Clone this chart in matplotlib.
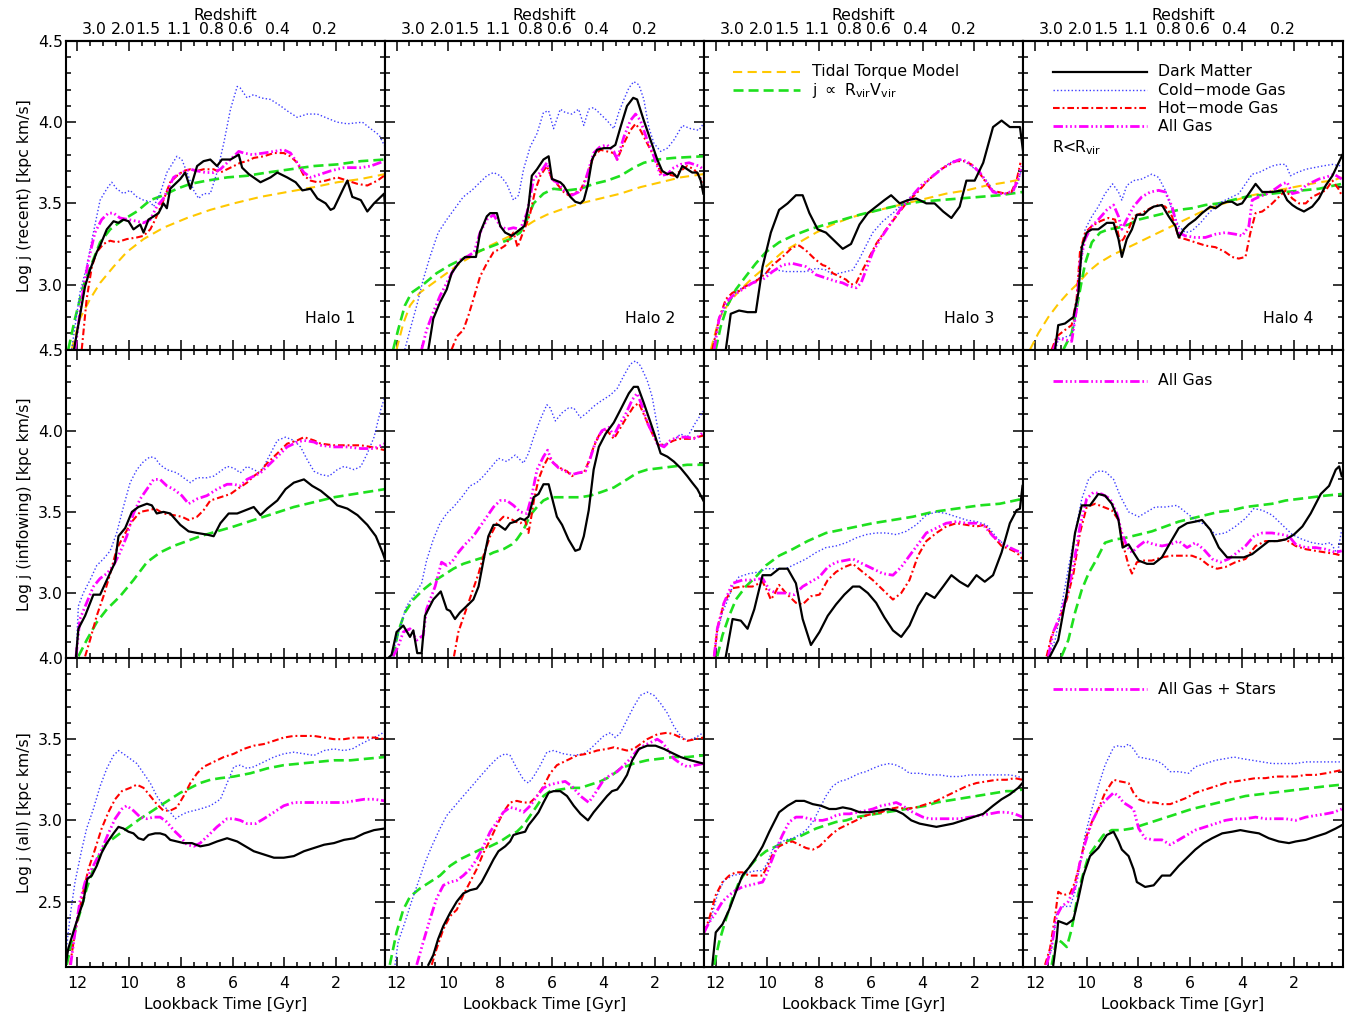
import numpy as np
import matplotlib
matplotlib.use('Agg')
import matplotlib.pyplot as plt
from matplotlib.ticker import MultipleLocator, FormatStrFormatter
from matplotlib.lines import Line2D

# ---------------- data: (lookback time [Gyr], log j) ----------------
# Row 1: recent
R1H1_DM = [(12.13,2.60),(11.70,2.99),(11.51,3.09),(11.25,3.20),(11.12,3.24),(10.86,3.34),(10.60,3.39),(10.41,3.38),(10.22,3.40),(10.02,3.39),(9.83,3.34),(9.57,3.37),(9.44,3.32),(9.25,3.40),(9.05,3.42),(8.86,3.44),(8.67,3.50),(8.54,3.47),(8.41,3.59),(8.02,3.65),(7.83,3.69),(7.63,3.59),(7.37,3.73),(7.12,3.76),(6.86,3.77),(6.60,3.73),(6.41,3.77),(6.08,3.77),(5.76,3.80),(5.63,3.72),(5.37,3.68),(4.92,3.63),(4.53,3.66),(4.27,3.69),(3.89,3.66),(3.56,3.63),(3.30,3.58),(2.98,3.59),(2.72,3.53),(2.40,3.50),(2.21,3.46),(2.08,3.47),(1.69,3.60),(1.56,3.64),(1.37,3.54),(1.04,3.52),(0.79,3.45),(0.53,3.50),(0.14,3.56),(0.08,3.44)]
R1H1_COLD = [(12.22,2.60),(11.90,2.95),(11.64,3.11),(11.38,3.32),(11.12,3.52),(10.86,3.59),(10.67,3.63),(10.48,3.59),(10.22,3.56),(9.96,3.58),(9.70,3.54),(9.44,3.52),(9.18,3.51),(9.05,3.48),(8.80,3.56),(8.54,3.69),(8.15,3.79),(7.96,3.77),(7.76,3.69),(7.50,3.58),(7.31,3.53),(7.12,3.56),(6.86,3.56),(6.60,3.69),(6.34,3.87),(6.08,4.08),(5.82,4.22),(5.70,4.21),(5.44,4.15),(5.18,4.17),(4.92,4.15),(4.53,4.14),(4.14,4.10),(3.89,4.07),(3.50,4.03),(3.11,4.05),(2.72,4.05),(2.27,4.02),(1.95,4.00),(1.56,3.99),(0.98,4.00),(0.66,3.96),(0.33,3.92),(0.11,3.85)]
R1H1_HOT = [(11.83,2.60),(11.64,2.91),(11.44,3.11),(11.25,3.20),(10.99,3.25),(10.73,3.27),(10.48,3.26),(10.09,3.28),(9.70,3.29),(9.44,3.30),(9.18,3.34),(8.99,3.40),(8.67,3.52),(8.41,3.63),(8.15,3.67),(7.89,3.70),(7.63,3.71),(7.37,3.70),(7.12,3.71),(6.73,3.71),(6.47,3.69),(6.21,3.71),(5.95,3.73),(5.70,3.75),(5.44,3.76),(5.18,3.78),(4.79,3.79),(4.40,3.81),(4.02,3.81),(3.76,3.79),(3.50,3.75),(3.24,3.67),(2.98,3.64),(2.72,3.63),(2.40,3.64),(1.95,3.66),(1.56,3.64),(1.17,3.62),(0.79,3.61),(0.40,3.64),(0.14,3.67)]
R1H1_ALL = [(12.09,2.60),(11.83,2.91),(11.57,3.15),(11.32,3.32),(11.06,3.40),(10.80,3.44),(10.60,3.44),(10.35,3.41),(10.02,3.40),(9.70,3.39),(9.44,3.38),(9.18,3.40),(8.93,3.48),(8.67,3.53),(8.28,3.66),(7.96,3.69),(7.63,3.71),(7.37,3.70),(7.05,3.69),(6.73,3.69),(6.47,3.71),(6.21,3.75),(5.95,3.79),(5.76,3.82),(5.57,3.81),(5.24,3.80),(4.79,3.81),(4.40,3.82),(4.02,3.83),(3.76,3.81),(3.50,3.75),(3.24,3.69),(2.98,3.66),(2.59,3.68),(2.21,3.70),(1.69,3.72),(1.04,3.72),(0.66,3.73),(0.14,3.76)]
R1H1_RV = [(12.35,2.60),(12.09,2.79),(11.77,2.99),(11.44,3.13),(11.12,3.26),(10.73,3.34),(10.22,3.40),(9.70,3.45),(9.18,3.52),(8.67,3.55),(8.15,3.59),(7.63,3.62),(6.99,3.64),(6.21,3.66),(5.44,3.67),(4.66,3.69),(3.76,3.71),(2.85,3.73),(1.95,3.74),(1.04,3.76),(0.11,3.77)]
R1H1_TT = [(12.22,2.60),(11.90,2.79),(11.51,2.91),(11.12,3.01),(10.60,3.11),(10.09,3.20),(9.44,3.28),(8.67,3.35),(7.76,3.41),(6.86,3.46),(5.95,3.50),(4.92,3.54),(3.89,3.57),(2.85,3.60),(1.95,3.63),(1.04,3.65),(0.11,3.68)]

R1H2_DM = [(10.77,2.60),(10.58,2.79),(10.32,2.89),(10.06,2.97),(9.87,3.07),(9.61,3.13),(9.35,3.17),(8.93,3.17),(8.77,3.32),(8.51,3.42),(8.38,3.44),(8.12,3.44),(7.99,3.36),(7.80,3.32),(7.54,3.30),(7.22,3.34),(7.06,3.36),(6.90,3.48),(6.77,3.67),(6.57,3.71),(6.32,3.77),(6.12,3.79),(5.99,3.65),(5.67,3.63),(5.54,3.61),(5.28,3.54),(5.09,3.51),(4.89,3.50),(4.76,3.52),(4.61,3.61),(4.44,3.77),(4.25,3.83),(3.99,3.84),(3.73,3.84),(3.54,3.86),(3.34,3.97),(3.09,4.10),(2.85,4.15),(2.70,4.14),(2.44,4.01),(2.18,3.89),(1.92,3.77),(1.73,3.70),(1.53,3.68),(1.34,3.69),(1.15,3.66),(0.95,3.73),(0.76,3.71),(0.57,3.69),(0.37,3.69),(0.24,3.64),(0.14,3.56)]
R1H2_COLD = [(11.68,2.60),(11.48,2.72),(11.22,2.87),(10.97,3.03),(10.71,3.17),(10.39,3.32),(10.06,3.40),(9.74,3.47),(9.42,3.54),(9.09,3.58),(8.77,3.63),(8.51,3.67),(8.25,3.69),(7.99,3.67),(7.74,3.62),(7.48,3.52),(7.28,3.55),(7.09,3.71),(6.83,3.85),(6.57,3.93),(6.32,4.06),(6.12,4.07),(5.93,3.96),(5.67,4.08),(5.48,4.06),(5.22,4.05),(4.96,4.08),(4.76,3.98),(4.57,4.08),(4.38,4.09),(4.12,4.05),(3.86,4.01),(3.60,3.96),(3.41,4.06),(3.21,4.14),(3.02,4.21),(2.83,4.25),(2.63,4.23),(2.44,4.14),(2.25,3.97),(2.05,3.87),(1.79,3.82),(1.53,3.84),(1.28,3.89),(0.95,3.98),(0.63,3.96),(0.31,3.95),(0.14,3.99)]
R1H2_HOT = [(9.87,2.60),(9.67,2.68),(9.42,2.72),(9.22,2.81),(9.03,2.91),(8.77,3.05),(8.51,3.13),(8.25,3.20),(7.99,3.22),(7.80,3.24),(7.61,3.29),(7.48,3.32),(7.32,3.23),(7.16,3.30),(6.96,3.38),(6.83,3.44),(6.64,3.58),(6.44,3.67),(6.19,3.73),(5.99,3.65),(5.80,3.62),(5.54,3.57),(5.35,3.55),(5.15,3.56),(4.89,3.58),(4.64,3.67),(4.38,3.79),(4.12,3.83),(3.86,3.82),(3.60,3.81),(3.47,3.77),(3.21,3.87),(2.96,3.95),(2.76,3.99),(2.57,3.95),(2.31,3.87),(2.05,3.79),(1.79,3.69),(1.53,3.68),(1.28,3.67),(1.02,3.70),(0.76,3.73),(0.50,3.71),(0.31,3.67),(0.14,3.63)]
R1H2_ALL = [(11.03,2.60),(10.84,2.72),(10.58,2.83),(10.32,2.93),(10.06,3.01),(9.80,3.09),(9.55,3.15),(9.29,3.17),(9.00,3.20),(8.77,3.32),(8.51,3.40),(8.25,3.43),(7.99,3.36),(7.74,3.34),(7.48,3.35),(7.22,3.34),(6.96,3.44),(6.70,3.65),(6.44,3.69),(6.19,3.75),(5.99,3.65),(5.73,3.62),(5.48,3.57),(5.22,3.55),(4.96,3.57),(4.76,3.61),(4.57,3.71),(4.38,3.81),(4.12,3.85),(3.86,3.86),(3.60,3.82),(3.47,3.77),(3.21,3.91),(2.96,4.01),(2.76,4.05),(2.57,4.01),(2.31,3.89),(2.05,3.79),(1.79,3.67),(1.53,3.68),(1.28,3.72),(1.02,3.74),(0.69,3.75),(0.31,3.73),(0.14,3.71)]
R1H2_RV = [(12.13,2.60),(11.94,2.72),(11.68,2.87),(11.42,2.95),(10.97,3.00),(10.45,3.07),(9.93,3.12),(9.42,3.16),(8.90,3.20),(8.25,3.24),(7.61,3.28),(7.22,3.32),(6.96,3.40),(6.70,3.50),(6.32,3.56),(5.93,3.59),(5.41,3.58),(4.89,3.59),(4.38,3.62),(3.86,3.64),(3.34,3.67),(2.83,3.72),(2.44,3.75),(1.92,3.77),(1.28,3.78),(0.14,3.79)]
R1H2_TT = [(12.00,2.60),(11.74,2.76),(11.48,2.87),(11.10,2.95),(10.58,3.01),(10.06,3.07),(9.55,3.13),(9.03,3.18),(8.51,3.23),(7.99,3.27),(7.48,3.31),(7.09,3.35),(6.70,3.39),(6.19,3.43),(5.67,3.46),(4.89,3.50),(4.12,3.53),(3.34,3.56),(2.57,3.60),(1.79,3.63),(1.02,3.66),(0.14,3.68)]

R1H3_DM = [(11.61,2.60),(11.42,2.82),(11.10,2.84),(10.77,2.83),(10.45,2.83),(10.19,3.11),(9.87,3.32),(9.55,3.46),(9.22,3.50),(8.90,3.55),(8.64,3.55),(8.38,3.44),(8.06,3.34),(7.74,3.32),(7.48,3.28),(7.09,3.22),(6.77,3.25),(6.44,3.37),(6.12,3.44),(5.80,3.48),(5.48,3.52),(5.22,3.55),(4.89,3.50),(4.57,3.52),(4.25,3.53),(3.86,3.50),(3.54,3.50),(3.21,3.45),(2.89,3.41),(2.57,3.48),(2.31,3.64),(1.99,3.64),(1.66,3.75),(1.28,3.97),(0.95,4.01),(0.63,3.97),(0.24,3.97),(0.11,3.81)]
R1H3_COLD = [(12.13,2.60),(11.87,2.79),(11.61,2.87),(11.35,2.93),(11.10,2.97),(10.71,3.00),(10.32,3.04),(10.06,3.07),(9.67,3.09),(9.29,3.08),(8.90,3.08),(8.51,3.08),(8.12,3.10),(7.74,3.09),(7.48,3.06),(7.22,3.07),(6.96,3.08),(6.70,3.09),(6.44,3.16),(6.19,3.24),(5.93,3.32),(5.54,3.39),(5.15,3.44),(4.76,3.50),(4.38,3.55),(3.99,3.61),(3.60,3.67),(3.21,3.72),(2.83,3.76),(2.57,3.77),(2.31,3.75),(2.05,3.72),(1.79,3.69),(1.53,3.64),(1.28,3.58),(1.02,3.56),(0.76,3.56),(0.50,3.57),(0.31,3.63),(0.18,3.71)]
R1H3_HOT = [(12.13,2.60),(11.87,2.79),(11.61,2.91),(11.35,2.95),(11.10,2.96),(10.84,2.99),(10.45,3.02),(10.06,3.07),(9.80,3.12),(9.42,3.17),(9.03,3.23),(8.77,3.24),(8.51,3.21),(8.19,3.16),(7.87,3.12),(7.67,3.11),(7.48,3.07),(7.22,3.05),(6.96,3.03),(6.77,3.00),(6.57,3.01),(6.32,3.09),(6.06,3.17),(5.80,3.25),(5.41,3.34),(5.02,3.42),(4.64,3.50),(4.25,3.56),(3.86,3.63),(3.47,3.69),(3.09,3.73),(2.70,3.76),(2.37,3.76),(2.12,3.74),(1.86,3.70),(1.60,3.64),(1.34,3.58),(1.08,3.57),(0.82,3.56),(0.57,3.57),(0.37,3.64),(0.22,3.75)]
R1H3_ALL = [(12.06,2.60),(11.87,2.79),(11.61,2.89),(11.35,2.93),(10.97,2.97),(10.58,3.01),(10.19,3.03),(9.80,3.08),(9.42,3.12),(9.03,3.13),(8.77,3.12),(8.51,3.11),(8.12,3.06),(7.74,3.04),(7.35,3.02),(7.09,3.01),(6.83,2.99),(6.57,2.98),(6.38,3.01),(6.19,3.09),(5.93,3.20),(5.60,3.29),(5.22,3.38),(4.83,3.47),(4.44,3.54),(4.06,3.61),(3.67,3.66),(3.28,3.71),(2.89,3.75),(2.57,3.77),(2.31,3.76),(2.05,3.73),(1.79,3.69),(1.53,3.63),(1.28,3.57),(1.02,3.56),(0.76,3.56),(0.50,3.58),(0.31,3.65),(0.18,3.73)]
R1H3_RV = [(12.00,2.60),(11.81,2.74),(11.55,2.87),(11.22,2.97),(10.84,3.05),(10.45,3.13),(10.06,3.20),(9.55,3.26),(9.03,3.30),(8.38,3.34),(7.74,3.37),(7.09,3.40),(6.44,3.43),(5.67,3.46),(4.89,3.49),(4.12,3.51),(3.34,3.52),(2.57,3.53),(1.79,3.54),(1.02,3.55),(0.14,3.57)]
R1H3_TT = [(12.19,2.60),(11.87,2.79),(11.48,2.89),(11.10,2.96),(10.58,3.04),(10.06,3.11),(9.42,3.20),(8.77,3.26),(8.12,3.32),(7.48,3.37),(6.83,3.41),(6.19,3.44),(5.41,3.47),(4.64,3.50),(3.86,3.53),(3.09,3.56),(2.31,3.58),(1.53,3.61),(0.76,3.63),(0.14,3.65)]

R1H4_DM = [(11.22,2.60),(11.10,2.75),(10.84,2.76),(10.51,2.80),(10.32,2.95),(10.19,3.23),(10.00,3.32),(9.80,3.34),(9.55,3.34),(9.22,3.38),(8.96,3.38),(8.77,3.28),(8.64,3.17),(8.45,3.28),(8.25,3.34),(8.06,3.43),(7.80,3.43),(7.61,3.46),(7.41,3.48),(7.09,3.49),(6.83,3.42),(6.57,3.36),(6.44,3.29),(6.25,3.34),(6.06,3.37),(5.80,3.40),(5.54,3.44),(5.22,3.48),(5.02,3.47),(4.76,3.50),(4.57,3.51),(4.38,3.51),(4.18,3.49),(3.99,3.50),(3.73,3.56),(3.47,3.62),(3.21,3.57),(2.83,3.57),(2.44,3.58),(2.25,3.52),(2.05,3.49),(1.86,3.47),(1.60,3.45),(1.28,3.48),(1.02,3.53),(0.76,3.61),(0.50,3.67),(0.11,3.80)]
R1H4_COLD = [(11.20,2.60),(11.10,2.66),(10.77,2.68),(10.55,2.69),(10.39,2.85),(10.23,3.11),(10.06,3.34),(9.80,3.42),(9.55,3.48),(9.29,3.56),(9.00,3.62),(8.77,3.57),(8.64,3.52),(8.45,3.61),(8.19,3.64),(7.87,3.65),(7.48,3.68),(7.22,3.66),(6.96,3.58),(6.70,3.46),(6.44,3.36),(6.19,3.32),(5.93,3.33),(5.60,3.38),(5.28,3.44),(4.89,3.50),(4.51,3.53),(4.12,3.56),(3.86,3.62),(3.60,3.68),(3.34,3.69),(3.09,3.71),(2.83,3.73),(2.57,3.74),(2.31,3.74),(2.12,3.67),(1.86,3.69),(1.53,3.71),(1.21,3.72),(0.89,3.73),(0.50,3.74),(0.14,3.73)]
R1H4_HOT = [(11.35,2.60),(11.16,2.68),(10.84,2.72),(10.58,2.75),(10.39,2.91),(10.26,3.20),(10.06,3.32),(9.80,3.36),(9.48,3.39),(9.16,3.41),(8.90,3.40),(8.71,3.26),(8.58,3.28),(8.38,3.34),(8.19,3.42),(7.87,3.44),(7.54,3.47),(7.22,3.49),(6.96,3.48),(6.70,3.42),(6.44,3.29),(6.19,3.28),(5.80,3.26),(5.41,3.24),(5.02,3.23),(4.64,3.20),(4.38,3.17),(4.12,3.16),(3.86,3.17),(3.67,3.32),(3.47,3.44),(3.21,3.45),(2.89,3.49),(2.57,3.54),(2.31,3.58),(2.05,3.53),(1.79,3.50),(1.53,3.50),(1.28,3.54),(1.02,3.56),(0.76,3.58),(0.50,3.64),(0.27,3.59),(0.14,3.55)]
R1H4_ALL = [(11.29,2.60),(11.13,2.67),(10.84,2.66),(10.58,2.65),(10.39,2.85),(10.26,3.13),(10.06,3.28),(9.80,3.36),(9.55,3.40),(9.22,3.46),(8.96,3.49),(8.77,3.42),(8.64,3.34),(8.45,3.40),(8.19,3.48),(7.87,3.54),(7.54,3.57),(7.22,3.58),(6.96,3.57),(6.70,3.48),(6.44,3.32),(6.19,3.30),(5.80,3.29),(5.41,3.29),(5.02,3.31),(4.64,3.32),(4.25,3.31),(3.99,3.30),(3.73,3.36),(3.60,3.52),(3.34,3.54),(3.02,3.56),(2.70,3.59),(2.44,3.62),(2.25,3.63),(2.05,3.56),(1.79,3.57),(1.53,3.61),(1.28,3.63),(1.02,3.65),(0.76,3.66),(0.44,3.68),(0.14,3.65)]
R1H4_RV = [(10.90,2.60),(10.58,2.70),(10.39,2.85),(10.23,2.99),(10.06,3.13),(9.80,3.26),(9.48,3.32),(9.16,3.34),(8.77,3.35),(8.38,3.37),(7.99,3.40),(7.48,3.42),(6.96,3.44),(6.44,3.46),(5.93,3.47),(5.41,3.49),(4.89,3.50),(4.38,3.52),(3.86,3.54),(3.34,3.55),(2.83,3.56),(2.31,3.57),(1.66,3.58),(1.02,3.59),(0.14,3.62)]
R1H4_TT = [(12.19,2.60),(11.87,2.70),(11.48,2.80),(11.10,2.88),(10.71,2.95),(10.32,3.01),(9.93,3.08),(9.55,3.13),(9.03,3.18),(8.51,3.22),(7.99,3.26),(7.48,3.30),(6.96,3.34),(6.44,3.38),(5.93,3.42),(5.41,3.46),(4.89,3.49),(4.25,3.52),(3.60,3.55),(2.96,3.57),(2.31,3.59),(1.66,3.61),(1.02,3.63),(0.50,3.64),(0.14,3.66)]

# Row 2: inflowing
R2H1_DM = [(12.05,2.61),(11.96,2.78),(11.70,2.86),(11.38,2.99),(11.12,2.99),(10.86,3.08),(10.54,3.19),(10.41,3.35),(10.15,3.40),(9.89,3.50),(9.64,3.53),(9.31,3.55),(9.12,3.54),(8.93,3.49),(8.67,3.50),(8.41,3.49),(8.02,3.42),(7.70,3.38),(7.37,3.37),(6.99,3.36),(6.73,3.35),(6.47,3.43),(6.15,3.49),(5.82,3.49),(5.50,3.51),(5.18,3.53),(4.92,3.48),(4.66,3.52),(4.27,3.57),(3.95,3.64),(3.63,3.68),(3.24,3.70),(2.92,3.66),(2.59,3.63),(2.21,3.58),(1.95,3.54),(1.56,3.52),(1.17,3.48),(0.79,3.42),(0.46,3.35),(0.20,3.25),(0.11,3.21)]
R2H1_COLD = [(12.05,2.61),(11.96,2.92),(11.77,3.00),(11.51,3.08),(11.25,3.17),(10.99,3.21),(10.73,3.26),(10.48,3.37),(10.22,3.53),(9.96,3.68),(9.70,3.76),(9.44,3.81),(9.18,3.84),(8.99,3.83),(8.80,3.79),(8.54,3.76),(8.15,3.74),(7.89,3.71),(7.63,3.68),(7.37,3.71),(6.99,3.71),(6.73,3.72),(6.47,3.75),(6.21,3.78),(5.95,3.77),(5.70,3.74),(5.44,3.78),(5.18,3.76),(4.92,3.74),(4.66,3.82),(4.27,3.94),(3.95,3.96),(3.63,3.94),(3.37,3.90),(3.11,3.82),(2.85,3.75),(2.59,3.73),(2.27,3.72),(1.95,3.76),(1.69,3.78),(1.30,3.76),(1.04,3.78),(0.79,3.86),(0.53,3.96),(0.27,4.13),(0.11,4.21)]
R2H1_HOT = [(11.70,2.61),(11.51,2.71),(11.25,2.86),(10.99,2.98),(10.73,3.12),(10.48,3.27),(10.22,3.35),(9.89,3.44),(9.57,3.50),(9.25,3.51),(8.99,3.52),(8.67,3.49),(8.28,3.48),(7.96,3.47),(7.70,3.45),(7.37,3.47),(7.12,3.51),(6.86,3.57),(6.47,3.59),(6.08,3.61),(5.82,3.64),(5.44,3.68),(5.18,3.72),(4.92,3.75),(4.66,3.80),(4.27,3.86),(3.89,3.92),(3.50,3.94),(3.24,3.96),(2.85,3.94),(2.59,3.92),(2.08,3.91),(1.56,3.91),(1.04,3.91),(0.66,3.90),(0.11,3.88)]
R2H1_ALL = [(12.05,2.61),(11.90,2.84),(11.64,2.94),(11.38,3.04),(11.12,3.09),(10.86,3.12),(10.60,3.17),(10.35,3.25),(10.09,3.35),(9.83,3.49),(9.57,3.58),(9.31,3.64),(9.05,3.70),(8.80,3.70),(8.54,3.66),(8.28,3.64),(7.96,3.60),(7.70,3.55),(7.37,3.58),(6.99,3.60),(6.60,3.64),(6.21,3.67),(5.95,3.67),(5.70,3.66),(5.44,3.70),(5.18,3.72),(4.92,3.74),(4.66,3.78),(4.27,3.84),(3.89,3.90),(3.50,3.93),(3.24,3.94),(2.85,3.93),(2.59,3.91),(2.08,3.90),(1.56,3.90),(1.04,3.89),(0.53,3.89),(0.11,3.92)]
R2H1_RV = [(11.96,2.61),(11.64,2.71),(11.25,2.82),(10.86,2.90),(10.35,2.98),(9.83,3.08),(9.31,3.19),(8.80,3.25),(8.28,3.29),(7.76,3.32),(7.25,3.35),(6.60,3.38),(5.95,3.41),(5.18,3.45),(4.40,3.49),(3.63,3.53),(2.85,3.56),(2.08,3.59),(1.30,3.61),(0.11,3.64)]

R2H2_DM = [(12.32,2.60),(12.19,2.62),(12.00,2.76),(11.74,2.80),(11.48,2.73),(11.35,2.77),(11.20,2.63),(11.03,2.63),(10.90,2.86),(10.58,2.96),(10.29,3.01),(10.06,2.90),(9.93,2.89),(9.74,2.84),(9.55,2.88),(9.22,2.93),(9.03,2.96),(8.83,3.04),(8.64,3.20),(8.45,3.35),(8.25,3.42),(8.06,3.42),(7.80,3.39),(7.61,3.43),(7.41,3.44),(7.22,3.46),(7.06,3.45),(6.90,3.47),(6.70,3.59),(6.51,3.61),(6.32,3.67),(6.12,3.67),(5.93,3.55),(5.80,3.47),(5.60,3.42),(5.35,3.33),(5.09,3.26),(4.92,3.27),(4.76,3.35),(4.57,3.51),(4.38,3.76),(4.18,3.90),(3.92,3.98),(3.60,4.05),(3.34,4.13),(3.02,4.23),(2.83,4.27),(2.67,4.27),(2.44,4.17),(2.18,4.05),(1.99,3.96),(1.79,3.86),(1.53,3.84),(1.28,3.81),(1.02,3.77),(0.76,3.72),(0.57,3.68),(0.37,3.64),(0.14,3.57)]
R2H2_COLD = [(12.19,2.61),(12.00,2.71),(11.81,2.82),(11.61,2.92),(11.35,2.98),(11.03,3.06),(10.84,3.20),(10.58,3.33),(10.32,3.43),(10.06,3.49),(9.80,3.53),(9.48,3.59),(9.16,3.66),(8.90,3.68),(8.64,3.72),(8.32,3.78),(8.06,3.83),(7.74,3.81),(7.41,3.85),(7.09,3.80),(6.90,3.86),(6.70,3.96),(6.44,4.07),(6.19,4.16),(6.06,4.14),(5.86,4.06),(5.60,4.11),(5.35,4.14),(5.15,4.14),(4.89,4.08),(4.64,4.11),(4.38,4.15),(4.12,4.18),(3.73,4.22),(3.47,4.26),(3.21,4.34),(2.96,4.41),(2.76,4.43),(2.57,4.40),(2.31,4.31),(2.12,4.21),(1.92,4.03),(1.79,3.91),(1.53,3.92),(1.28,3.94),(1.02,3.98),(0.76,3.96),(0.44,4.05),(0.14,4.12)]
R2H2_HOT = [(9.78,2.61),(9.61,2.76),(9.35,2.88),(9.09,3.00),(8.83,3.12),(8.64,3.23),(8.38,3.35),(8.12,3.43),(7.87,3.47),(7.61,3.46),(7.41,3.44),(7.22,3.43),(7.03,3.45),(6.90,3.37),(6.81,3.45),(6.68,3.58),(6.51,3.70),(6.32,3.78),(6.12,3.84),(5.93,3.80),(5.67,3.77),(5.41,3.75),(5.22,3.72),(5.02,3.74),(4.76,3.74),(4.57,3.81),(4.38,3.90),(4.12,3.99),(3.86,4.00),(3.60,3.95),(3.41,4.00),(3.15,4.07),(2.83,4.15),(2.63,4.17),(2.44,4.10),(2.25,4.03),(2.05,3.96),(1.86,3.91),(1.53,3.92),(1.28,3.94),(1.02,3.95),(0.63,3.95),(0.14,3.97)]
R2H2_ALL = [(12.13,2.61),(11.94,2.67),(11.74,2.76),(11.48,2.78),(11.22,2.71),(10.97,2.74),(10.84,2.90),(10.51,3.04),(10.26,3.19),(10.06,3.17),(9.87,3.19),(9.61,3.25),(9.35,3.30),(9.03,3.35),(8.77,3.41),(8.51,3.47),(8.25,3.53),(7.99,3.57),(7.74,3.57),(7.48,3.54),(7.22,3.50),(6.96,3.49),(6.77,3.60),(6.57,3.76),(6.32,3.84),(6.16,3.88),(5.99,3.81),(5.73,3.77),(5.48,3.75),(5.22,3.73),(4.96,3.74),(4.70,3.75),(4.51,3.83),(4.31,3.93),(4.06,4.00),(3.80,4.02),(3.60,3.97),(3.41,4.03),(3.15,4.10),(2.89,4.19),(2.70,4.23),(2.50,4.15),(2.31,4.05),(2.12,3.99),(1.92,3.92),(1.66,3.90),(1.41,3.94),(1.15,3.96),(0.76,3.96),(0.44,3.95),(0.14,3.99)]
R2H2_RV = [(12.13,2.61),(11.94,2.76),(11.68,2.88),(11.35,2.96),(10.97,3.02),(10.58,3.07),(10.19,3.11),(9.80,3.15),(9.42,3.18),(9.03,3.20),(8.64,3.22),(8.25,3.25),(7.87,3.27),(7.54,3.30),(7.35,3.33),(7.09,3.39),(6.83,3.48),(6.57,3.53),(6.32,3.57),(6.06,3.59),(5.67,3.59),(5.28,3.59),(4.89,3.59),(4.51,3.60),(4.12,3.62),(3.60,3.65),(3.09,3.70),(2.70,3.74),(2.31,3.76),(1.79,3.77),(1.28,3.78),(0.76,3.79),(0.14,3.79)]

R2H3_DM = [(11.61,2.61),(11.35,2.84),(11.03,2.83),(10.77,2.78),(10.51,2.90),(10.19,3.11),(9.87,3.11),(9.55,3.15),(9.22,3.15),(8.90,3.06),(8.64,2.84),(8.32,2.68),(7.99,2.76),(7.67,2.86),(7.35,2.93),(7.03,2.99),(6.70,3.04),(6.44,3.04),(6.12,3.00),(5.80,2.94),(5.48,2.85),(5.15,2.77),(4.83,2.73),(4.51,2.80),(4.18,2.92),(3.86,3.00),(3.54,2.97),(3.21,3.04),(2.89,3.11),(2.57,3.07),(2.25,3.04),(1.92,3.11),(1.60,3.07),(1.28,3.11),(0.95,3.25),(0.63,3.43),(0.37,3.51),(0.24,3.52),(0.14,3.66)]
R2H3_COLD = [(12.06,2.61),(11.94,2.76),(11.74,2.88),(11.48,2.98),(11.35,3.04),(11.10,3.10),(10.71,3.12),(10.32,3.13),(10.06,3.15),(9.67,3.15),(9.29,3.15),(8.90,3.18),(8.51,3.21),(8.12,3.25),(7.74,3.28),(7.35,3.29),(6.96,3.31),(6.57,3.34),(6.19,3.36),(5.80,3.37),(5.41,3.37),(5.02,3.36),(4.64,3.38),(4.25,3.42),(3.86,3.48),(3.47,3.50),(3.09,3.49),(2.70,3.47),(2.31,3.45),(1.92,3.44),(1.53,3.42),(1.28,3.37),(1.02,3.32),(0.63,3.28),(0.37,3.26),(0.14,3.24)]
R2H3_HOT = [(12.06,2.61),(11.94,2.78),(11.68,2.94),(11.35,3.03),(10.97,3.04),(10.58,3.04),(10.19,3.07),(10.00,3.01),(9.87,2.96),(9.74,2.99),(9.55,3.05),(9.29,3.00),(8.90,2.94),(8.64,2.93),(8.32,2.98),(7.99,2.99),(7.67,3.08),(7.35,3.13),(7.03,3.16),(6.70,3.18),(6.32,3.13),(5.93,3.08),(5.54,3.02),(5.15,2.96),(4.83,3.00),(4.51,3.08),(4.18,3.23),(3.86,3.32),(3.47,3.37),(3.09,3.41),(2.70,3.43),(2.31,3.42),(1.92,3.41),(1.60,3.42),(1.28,3.35),(0.95,3.29),(0.63,3.27),(0.37,3.25),(0.14,3.21)]
R2H3_ALL = [(12.06,2.61),(11.94,2.78),(11.68,2.94),(11.35,3.06),(10.97,3.08),(10.58,3.08),(10.19,3.09),(9.93,3.02),(9.67,3.00),(9.29,3.00),(8.96,2.99),(8.64,3.04),(8.32,3.07),(7.99,3.10),(7.67,3.16),(7.35,3.19),(7.03,3.20),(6.70,3.21),(6.32,3.18),(5.93,3.15),(5.54,3.12),(5.15,3.11),(4.83,3.16),(4.51,3.23),(4.18,3.30),(3.86,3.37),(3.47,3.40),(3.09,3.43),(2.70,3.44),(2.31,3.43),(1.92,3.43),(1.60,3.41),(1.28,3.35),(0.95,3.31),(0.63,3.28),(0.37,3.26),(0.14,3.25)]
R2H3_RV = [(11.94,2.61),(11.74,2.74),(11.48,2.86),(11.22,2.96),(10.84,3.04),(10.45,3.10),(10.06,3.17),(9.55,3.23),(9.03,3.27),(8.45,3.32),(7.74,3.37),(6.83,3.40),(5.93,3.43),(5.15,3.45),(4.38,3.47),(3.60,3.50),(2.70,3.52),(1.79,3.54),(1.02,3.55),(0.14,3.58)]

R2H4_DM = [(11.42,2.61),(11.10,2.71),(10.77,3.00),(10.45,3.37),(10.19,3.54),(9.87,3.54),(9.55,3.61),(9.29,3.60),(9.03,3.55),(8.77,3.45),(8.61,3.28),(8.38,3.30),(8.19,3.25),(7.99,3.20),(7.67,3.18),(7.41,3.18),(7.09,3.22),(6.77,3.31),(6.44,3.40),(6.12,3.43),(5.80,3.44),(5.54,3.45),(5.22,3.39),(4.89,3.28),(4.57,3.22),(4.25,3.22),(3.92,3.22),(3.60,3.24),(3.28,3.28),(2.96,3.32),(2.63,3.32),(2.31,3.33),(1.99,3.36),(1.66,3.41),(1.34,3.49),(0.95,3.61),(0.63,3.66),(0.37,3.76),(0.24,3.78),(0.14,3.72)]
R2H4_COLD = [(11.48,2.61),(11.22,2.71),(10.97,2.92),(10.71,3.15),(10.45,3.37),(10.19,3.58),(9.93,3.70),(9.61,3.75),(9.29,3.75),(8.96,3.70),(8.71,3.60),(8.38,3.50),(7.99,3.47),(7.67,3.50),(7.35,3.53),(6.96,3.53),(6.51,3.54),(6.19,3.50),(5.80,3.45),(5.41,3.42),(5.02,3.36),(4.64,3.37),(4.25,3.41),(3.86,3.46),(3.54,3.52),(3.21,3.51),(2.83,3.48),(2.44,3.42),(2.05,3.36),(1.66,3.33),(1.28,3.31),(0.89,3.30),(0.57,3.31),(0.31,3.24),(0.14,3.39)]
R2H4_HOT = [(11.55,2.61),(11.35,2.74),(11.10,2.82),(10.77,2.96),(10.51,3.12),(10.26,3.37),(10.00,3.53),(9.67,3.55),(9.35,3.53),(9.03,3.51),(8.77,3.45),(8.58,3.29),(8.38,3.17),(8.25,3.12),(8.06,3.19),(7.80,3.20),(7.48,3.20),(7.09,3.22),(6.70,3.23),(6.32,3.23),(5.93,3.23),(5.60,3.21),(5.28,3.17),(4.96,3.15),(4.64,3.16),(4.25,3.19),(3.86,3.21),(3.47,3.29),(3.09,3.32),(2.70,3.32),(2.31,3.33),(1.92,3.29),(1.53,3.27),(1.15,3.26),(0.76,3.25),(0.37,3.24),(0.14,3.23)]
R2H4_ALL = [(11.48,2.61),(11.29,2.76),(11.03,2.86),(10.77,2.98),(10.51,3.17),(10.26,3.41),(10.00,3.58),(9.74,3.62),(9.42,3.61),(9.09,3.58),(8.83,3.49),(8.64,3.37),(8.45,3.29),(8.25,3.25),(7.99,3.29),(7.74,3.32),(7.41,3.30),(7.09,3.29),(6.77,3.30),(6.44,3.32),(6.12,3.28),(5.80,3.31),(5.48,3.27),(5.15,3.21),(4.83,3.19),(4.51,3.21),(4.18,3.25),(3.86,3.29),(3.54,3.35),(3.21,3.37),(2.83,3.37),(2.44,3.36),(2.18,3.35),(1.92,3.30),(1.53,3.28),(1.15,3.28),(0.76,3.27),(0.37,3.25),(0.14,3.26)]
R2H4_RV = [(10.97,2.61),(10.71,2.71),(10.45,2.88),(10.19,3.02),(9.93,3.12),(9.61,3.21),(9.29,3.31),(8.90,3.33),(8.51,3.34),(7.99,3.36),(7.48,3.38),(6.96,3.41),(6.44,3.44),(5.93,3.46),(5.41,3.48),(4.89,3.50),(4.38,3.51),(3.86,3.53),(3.34,3.54),(2.83,3.55),(2.31,3.57),(1.79,3.58),(1.28,3.59),(0.76,3.60),(0.14,3.61)]

# Row 3: all
R3H1_DM = [(12.45,2.11),(12.35,2.21),(12.16,2.31),(11.96,2.41),(11.77,2.50),(11.61,2.64),(11.44,2.66),(11.25,2.72),(11.06,2.80),(10.86,2.86),(10.60,2.92),(10.41,2.96),(10.22,2.95),(10.02,2.93),(9.83,2.92),(9.64,2.89),(9.44,2.88),(9.25,2.91),(8.99,2.92),(8.80,2.92),(8.60,2.91),(8.41,2.88),(8.15,2.87),(7.89,2.86),(7.57,2.86),(7.25,2.84),(6.92,2.85),(6.60,2.87),(6.21,2.89),(5.82,2.87),(5.50,2.84),(5.18,2.81),(4.79,2.79),(4.40,2.77),(4.02,2.77),(3.63,2.78),(3.24,2.81),(2.85,2.83),(2.46,2.85),(2.08,2.86),(1.69,2.88),(1.30,2.89),(0.91,2.92),(0.53,2.94),(0.11,2.95)]
R3H1_COLD = [(12.45,2.17),(12.28,2.41),(12.09,2.62),(11.83,2.82),(11.64,2.95),(11.38,3.07),(11.12,3.21),(10.86,3.32),(10.60,3.40),(10.41,3.43),(10.22,3.41),(9.96,3.38),(9.70,3.35),(9.44,3.29),(9.18,3.23),(8.93,3.15),(8.67,3.09),(8.41,3.05),(8.21,3.01),(8.02,3.03),(7.76,3.05),(7.50,3.06),(7.25,3.07),(6.86,3.09),(6.47,3.13),(6.21,3.23),(5.95,3.33),(5.70,3.34),(5.44,3.32),(5.18,3.33),(4.79,3.36),(4.40,3.39),(4.02,3.41),(3.63,3.42),(3.24,3.41),(2.85,3.40),(2.46,3.43),(2.08,3.44),(1.69,3.43),(1.37,3.44),(1.04,3.47),(0.66,3.50),(0.27,3.53),(0.11,3.55)]
R3H1_HOT = [(12.28,2.11),(12.09,2.31),(11.83,2.52),(11.57,2.70),(11.32,2.82),(11.06,2.95),(10.80,3.05),(10.54,3.13),(10.28,3.18),(9.96,3.20),(9.70,3.22),(9.44,3.20),(9.18,3.15),(8.93,3.10),(8.67,3.06),(8.41,3.06),(8.15,3.08),(7.89,3.15),(7.63,3.23),(7.37,3.29),(7.12,3.33),(6.73,3.36),(6.34,3.39),(5.95,3.41),(5.57,3.44),(5.18,3.46),(4.79,3.47),(4.40,3.49),(4.02,3.51),(3.63,3.52),(3.24,3.52),(2.85,3.52),(2.46,3.51),(2.08,3.50),(1.69,3.50),(1.30,3.51),(0.91,3.51),(0.53,3.51),(0.11,3.50)]
R3H1_ALL = [(12.26,2.11),(12.09,2.31),(11.90,2.50),(11.70,2.62),(11.51,2.68),(11.32,2.74),(11.06,2.82),(10.80,2.92),(10.54,3.01),(10.28,3.07),(10.09,3.09),(9.83,3.06),(9.57,3.02),(9.31,3.01),(9.05,3.02),(8.80,3.02),(8.54,2.99),(8.28,2.94),(8.02,2.90),(7.76,2.85),(7.50,2.84),(7.25,2.86),(6.92,2.91),(6.60,2.96),(6.21,3.01),(5.95,3.01),(5.70,3.00),(5.44,2.98),(5.11,2.98),(4.79,3.01),(4.40,3.05),(4.02,3.09),(3.63,3.11),(3.24,3.11),(2.85,3.11),(2.46,3.11),(2.08,3.11),(1.69,3.11),(1.30,3.12),(0.91,3.13),(0.53,3.13),(0.11,3.12)]
R3H1_RV = [(12.41,2.11),(12.16,2.29),(11.90,2.43),(11.64,2.58),(11.38,2.70),(11.12,2.80),(10.86,2.86),(10.60,2.89),(10.35,2.92),(10.09,2.95),(9.83,2.98),(9.57,3.01),(9.18,3.05),(8.80,3.09),(8.41,3.13),(8.02,3.17),(7.63,3.20),(7.25,3.23),(6.86,3.25),(6.47,3.26),(5.95,3.27),(5.31,3.29),(4.66,3.32),(4.02,3.34),(3.37,3.35),(2.72,3.36),(2.08,3.37),(1.43,3.37),(0.79,3.38),(0.11,3.39)]

R3H2_DM = [(10.77,2.11),(10.58,2.17),(10.39,2.27),(10.19,2.35),(9.93,2.43),(9.67,2.50),(9.42,2.55),(9.16,2.57),(8.90,2.58),(8.71,2.62),(8.51,2.68),(8.25,2.76),(8.06,2.81),(7.80,2.84),(7.61,2.87),(7.48,2.91),(7.28,2.92),(7.03,2.93),(6.90,2.97),(6.70,3.01),(6.51,3.05),(6.32,3.11),(6.12,3.17),(5.93,3.18),(5.67,3.18),(5.41,3.15),(5.15,3.09),(4.89,3.04),(4.60,3.00),(4.38,3.05),(4.12,3.10),(3.86,3.15),(3.67,3.18),(3.47,3.19),(3.28,3.23),(3.09,3.28),(2.89,3.37),(2.63,3.44),(2.31,3.46),(1.99,3.46),(1.66,3.44),(1.41,3.42),(1.02,3.39),(0.63,3.37),(0.14,3.35)]
R3H2_COLD = [(12.06,2.11),(11.94,2.25),(11.68,2.37),(11.42,2.50),(11.16,2.62),(10.90,2.74),(10.64,2.84),(10.32,2.95),(10.06,3.03),(9.74,3.09),(9.42,3.15),(9.09,3.21),(8.77,3.27),(8.38,3.34),(8.06,3.39),(7.80,3.41),(7.61,3.40),(7.35,3.32),(7.09,3.25),(6.90,3.23),(6.70,3.27),(6.44,3.34),(6.19,3.42),(5.93,3.43),(5.54,3.41),(5.15,3.40),(4.76,3.41),(4.51,3.44),(4.25,3.48),(3.99,3.52),(3.73,3.54),(3.54,3.51),(3.34,3.54),(3.09,3.62),(2.83,3.70),(2.57,3.77),(2.31,3.79),(2.05,3.77),(1.79,3.72),(1.53,3.66),(1.28,3.58),(1.02,3.52),(0.76,3.49),(0.44,3.51),(0.14,3.54)]
R3H2_HOT = [(10.64,2.11),(10.45,2.21),(10.19,2.33),(9.93,2.41),(9.67,2.45),(9.42,2.54),(9.16,2.62),(8.90,2.70),(8.64,2.80),(8.38,2.88),(8.12,2.97),(7.87,3.05),(7.61,3.11),(7.35,3.12),(7.09,3.11),(6.83,3.11),(6.57,3.15),(6.32,3.21),(6.06,3.29),(5.80,3.34),(5.41,3.37),(5.02,3.40),(4.64,3.41),(4.25,3.43),(3.86,3.44),(3.60,3.45),(3.34,3.44),(3.09,3.43),(2.83,3.44),(2.57,3.47),(2.31,3.50),(1.92,3.53),(1.53,3.54),(1.28,3.53),(1.02,3.51),(0.76,3.49),(0.44,3.50),(0.14,3.51)]
R3H2_ALL = [(11.22,2.11),(10.97,2.25),(10.71,2.39),(10.45,2.52),(10.19,2.60),(9.93,2.62),(9.67,2.63),(9.42,2.66),(9.16,2.70),(8.90,2.76),(8.64,2.84),(8.38,2.93),(8.12,2.99),(7.87,3.05),(7.61,3.08),(7.35,3.07),(7.09,3.05),(6.83,3.09),(6.57,3.15),(6.32,3.20),(6.06,3.22),(5.80,3.23),(5.48,3.24),(5.22,3.21),(4.89,3.15),(4.57,3.11),(4.31,3.17),(3.99,3.25),(3.73,3.28),(3.47,3.30),(3.21,3.34),(2.96,3.38),(2.70,3.43),(2.44,3.46),(2.18,3.48),(1.92,3.50),(1.73,3.48),(1.53,3.44),(1.28,3.38),(1.02,3.35),(0.76,3.33),(0.44,3.34),(0.14,3.35)]
R3H2_RV = [(12.26,2.11),(12.00,2.31),(11.74,2.45),(11.48,2.53),(11.10,2.58),(10.71,2.62),(10.32,2.66),(9.93,2.72),(9.55,2.76),(9.16,2.79),(8.77,2.82),(8.38,2.84),(7.99,2.87),(7.61,2.91),(7.35,2.93),(7.09,2.97),(6.83,3.03),(6.57,3.09),(6.32,3.15),(6.06,3.18),(5.67,3.19),(5.28,3.20),(4.89,3.20),(4.51,3.22),(4.12,3.24),(3.73,3.27),(3.34,3.32),(2.83,3.35),(2.31,3.37),(1.79,3.38),(1.28,3.39),(0.76,3.39),(0.14,3.40)]

R3H3_DM = [(12.13,2.11),(12.00,2.31),(11.74,2.36),(11.48,2.45),(11.22,2.56),(10.97,2.66),(10.71,2.71),(10.45,2.77),(10.19,2.84),(9.93,2.93),(9.55,3.05),(9.22,3.09),(8.90,3.12),(8.58,3.12),(8.25,3.10),(7.93,3.09),(7.61,3.07),(7.35,3.07),(7.09,3.08),(6.77,3.07),(6.44,3.05),(6.06,3.05),(5.67,3.06),(5.35,3.07),(5.02,3.06),(4.76,3.04),(4.44,3.00),(4.12,2.98),(3.80,2.97),(3.47,2.96),(3.15,2.97),(2.83,2.98),(2.44,3.00),(2.05,3.02),(1.66,3.04),(1.28,3.09),(0.95,3.13),(0.63,3.16),(0.31,3.20),(0.14,3.23)]
R3H3_COLD = [(12.45,2.31),(12.19,2.39),(11.94,2.54),(11.68,2.63),(11.35,2.66),(11.03,2.67),(10.71,2.68),(10.45,2.69),(10.19,2.69),(10.00,2.74),(9.80,2.82),(9.55,2.86),(9.29,2.88),(9.03,2.89),(8.77,2.91),(8.51,2.94),(8.25,2.99),(7.99,3.07),(7.74,3.15),(7.48,3.21),(7.22,3.24),(6.96,3.25),(6.70,3.27),(6.44,3.29),(6.19,3.30),(5.93,3.32),(5.60,3.34),(5.28,3.35),(5.02,3.34),(4.76,3.32),(4.51,3.29),(4.12,3.29),(3.73,3.28),(3.34,3.28),(2.96,3.27),(2.57,3.27),(2.18,3.28),(1.79,3.28),(1.41,3.28),(1.02,3.28),(0.63,3.28),(0.31,3.27),(0.14,3.26)]
R3H3_HOT = [(12.45,2.31),(12.26,2.39),(12.00,2.54),(11.74,2.62),(11.48,2.66),(11.22,2.68),(10.97,2.68),(10.71,2.66),(10.45,2.66),(10.19,2.66),(10.00,2.72),(9.80,2.79),(9.55,2.84),(9.29,2.86),(9.03,2.87),(8.77,2.85),(8.51,2.83),(8.25,2.82),(7.99,2.84),(7.74,2.88),(7.48,2.92),(7.22,2.95),(6.96,2.97),(6.70,2.99),(6.44,3.01),(6.19,3.03),(5.93,3.04),(5.60,3.05),(5.28,3.07),(4.96,3.08),(4.64,3.07),(4.25,3.08),(3.86,3.10),(3.47,3.12),(3.09,3.15),(2.70,3.18),(2.31,3.21),(1.92,3.23),(1.53,3.24),(1.15,3.25),(0.76,3.25),(0.44,3.26),(0.14,3.25)]
R3H3_ALL = [(12.45,2.31),(12.26,2.37),(12.00,2.43),(11.74,2.50),(11.48,2.54),(11.22,2.57),(10.97,2.59),(10.71,2.60),(10.45,2.61),(10.19,2.62),(10.06,2.66),(9.87,2.74),(9.67,2.82),(9.42,2.91),(9.16,2.99),(8.90,3.02),(8.64,3.02),(8.38,3.01),(8.12,3.00),(7.87,3.00),(7.61,3.01),(7.35,3.03),(7.09,3.04),(6.83,3.04),(6.51,3.05),(6.19,3.06),(5.93,3.07),(5.60,3.09),(5.28,3.10),(5.02,3.11),(4.76,3.09),(4.51,3.06),(4.25,3.04),(3.99,3.02),(3.73,3.01),(3.34,3.01),(2.96,3.01),(2.57,3.01),(2.18,3.02),(1.79,3.03),(1.41,3.04),(1.08,3.05),(0.76,3.05),(0.44,3.04),(0.14,3.02)]
R3H3_RV = [(12.06,2.11),(11.87,2.25),(11.61,2.39),(11.35,2.52),(11.10,2.62),(10.77,2.70),(10.45,2.76),(10.06,2.81),(9.67,2.84),(9.29,2.87),(8.90,2.89),(8.51,2.92),(8.12,2.95),(7.74,2.97),(7.35,2.99),(6.96,3.00),(6.57,3.02),(6.19,3.03),(5.80,3.04),(5.41,3.05),(5.02,3.06),(4.64,3.07),(4.25,3.08),(3.86,3.09),(3.47,3.11),(3.09,3.12),(2.70,3.13),(2.31,3.14),(1.92,3.15),(1.53,3.16),(1.15,3.17),(0.76,3.18),(0.44,3.18),(0.14,3.19)]

R3H4_DM = [(11.29,2.11),(11.16,2.27),(11.10,2.38),(10.77,2.36),(10.51,2.39),(10.32,2.52),(10.13,2.66),(9.87,2.78),(9.55,2.83),(9.22,2.91),(8.96,2.93),(8.77,2.87),(8.64,2.82),(8.38,2.78),(8.19,2.70),(8.06,2.62),(7.74,2.59),(7.41,2.60),(7.09,2.66),(6.77,2.66),(6.44,2.72),(6.12,2.77),(5.80,2.82),(5.48,2.86),(5.15,2.89),(4.76,2.92),(4.38,2.93),(4.06,2.94),(3.73,2.93),(3.34,2.92),(2.96,2.89),(2.57,2.87),(2.18,2.86),(1.92,2.87),(1.53,2.88),(1.15,2.90),(0.76,2.92),(0.37,2.95),(0.14,2.97)]
R3H4_COLD = [(11.55,2.11),(11.35,2.21),(11.16,2.43),(10.90,2.47),(10.64,2.47),(10.45,2.56),(10.26,2.72),(10.06,2.91),(9.80,3.07),(9.55,3.21),(9.29,3.34),(8.96,3.45),(8.77,3.46),(8.58,3.45),(8.38,3.47),(8.19,3.44),(7.99,3.39),(7.67,3.38),(7.35,3.37),(7.09,3.35),(6.77,3.30),(6.44,3.30),(6.06,3.29),(5.80,3.33),(5.41,3.35),(5.02,3.37),(4.64,3.38),(4.31,3.39),(3.99,3.38),(3.60,3.37),(3.21,3.36),(2.83,3.35),(2.31,3.35),(1.92,3.35),(1.53,3.36),(1.02,3.36),(0.50,3.36),(0.14,3.36)]
R3H4_HOT = [(11.61,2.11),(11.42,2.21),(11.22,2.41),(11.10,2.56),(10.90,2.54),(10.64,2.55),(10.45,2.62),(10.26,2.74),(10.06,2.88),(9.80,2.99),(9.55,3.07),(9.29,3.17),(8.96,3.25),(8.71,3.24),(8.38,3.23),(8.19,3.17),(7.99,3.13),(7.67,3.11),(7.35,3.11),(7.09,3.10),(6.77,3.10),(6.44,3.12),(6.12,3.14),(5.80,3.17),(5.41,3.19),(5.02,3.21),(4.64,3.23),(4.25,3.24),(3.86,3.25),(3.47,3.26),(3.09,3.26),(2.70,3.27),(2.31,3.27),(1.92,3.27),(1.53,3.28),(1.15,3.28),(0.76,3.29),(0.44,3.30),(0.14,3.31)]
R3H4_ALL = [(11.55,2.11),(11.35,2.23),(11.16,2.41),(10.97,2.47),(10.71,2.50),(10.45,2.59),(10.26,2.74),(10.06,2.86),(9.80,2.99),(9.55,3.07),(9.29,3.12),(8.96,3.17),(8.77,3.15),(8.58,3.11),(8.38,3.09),(8.19,3.07),(7.99,2.95),(7.74,2.89),(7.41,2.88),(7.09,2.88),(6.77,2.85),(6.44,2.88),(6.12,2.91),(5.80,2.94),(5.41,2.96),(5.02,2.98),(4.64,3.00),(4.25,3.01),(3.86,3.01),(3.47,3.02),(3.09,3.01),(2.70,3.01),(2.31,3.01),(1.92,3.00),(1.53,3.02),(1.15,3.03),(0.76,3.04),(0.44,3.05),(0.14,3.07)]
R3H4_RV = [(11.35,2.11),(11.16,2.27),(10.97,2.25),(10.77,2.22),(10.58,2.33),(10.39,2.50),(10.19,2.64),(9.93,2.78),(9.67,2.84),(9.35,2.91),(9.03,2.94),(8.64,2.94),(8.25,2.95),(7.87,2.97),(7.48,2.99),(7.09,3.01),(6.70,3.03),(6.32,3.05),(5.93,3.07),(5.41,3.09),(4.89,3.11),(4.38,3.13),(3.86,3.15),(3.34,3.16),(2.83,3.17),(2.31,3.18),(1.79,3.19),(1.28,3.20),(0.76,3.21),(0.14,3.22)]

# labels / ticks
REDSHIFT_VALUES = [3.0, 2.0, 1.5, 1.1, 0.8, 0.6, 0.4, 0.2]
REDSHIFT_LABELS = ['3.0', '2.0', '1.5', '1.1', '0.8', '0.6', '0.4', '0.2']
ROW_LABELS = ['Log j (recent) [kpc km/s]', 'Log j (inflowing) [kpc km/s]', 'Log j (all) [kpc km/s]']
HALO_NAMES = ['Halo 1', 'Halo 2', 'Halo 3', 'Halo 4']
YLIMS = [(2.6, 4.5), (2.6, 4.5), (2.1, 4.0)]
XLIM = (12.45, 0.11)

PANELS = [
    [dict(DM=R1H1_DM, COLD=R1H1_COLD, HOT=R1H1_HOT, ALL=R1H1_ALL, RV=R1H1_RV, TT=R1H1_TT),
     dict(DM=R1H2_DM, COLD=R1H2_COLD, HOT=R1H2_HOT, ALL=R1H2_ALL, RV=R1H2_RV, TT=R1H2_TT),
     dict(DM=R1H3_DM, COLD=R1H3_COLD, HOT=R1H3_HOT, ALL=R1H3_ALL, RV=R1H3_RV, TT=R1H3_TT),
     dict(DM=R1H4_DM, COLD=R1H4_COLD, HOT=R1H4_HOT, ALL=R1H4_ALL, RV=R1H4_RV, TT=R1H4_TT)],
    [dict(DM=R2H1_DM, COLD=R2H1_COLD, HOT=R2H1_HOT, ALL=R2H1_ALL, RV=R2H1_RV),
     dict(DM=R2H2_DM, COLD=R2H2_COLD, HOT=R2H2_HOT, ALL=R2H2_ALL, RV=R2H2_RV),
     dict(DM=R2H3_DM, COLD=R2H3_COLD, HOT=R2H3_HOT, ALL=R2H3_ALL, RV=R2H3_RV),
     dict(DM=R2H4_DM, COLD=R2H4_COLD, HOT=R2H4_HOT, ALL=R2H4_ALL, RV=R2H4_RV)],
    [dict(DM=R3H1_DM, COLD=R3H1_COLD, HOT=R3H1_HOT, ALL=R3H1_ALL, RV=R3H1_RV),
     dict(DM=R3H2_DM, COLD=R3H2_COLD, HOT=R3H2_HOT, ALL=R3H2_ALL, RV=R3H2_RV),
     dict(DM=R3H3_DM, COLD=R3H3_COLD, HOT=R3H3_HOT, ALL=R3H3_ALL, RV=R3H3_RV),
     dict(DM=R3H4_DM, COLD=R3H4_COLD, HOT=R3H4_HOT, ALL=R3H4_ALL, RV=R3H4_RV)],
]

STYLE = {
    'DM':   dict(color='black', lw=1.6, ls='-'),
    'COLD': dict(color='#3c3cff', lw=1.0, ls=(0, (1, 1.6))),
    'HOT':  dict(color='#ff0000', lw=1.5, ls=(0, (3.2, 1.4, 0.9, 1.4))),
    'ALL':  dict(color='#ff00ff', lw=2.0, ls=(0, (3.4, 1.0, 0.6, 1.0, 0.6, 1.0, 0.6, 1.0))),
    'RV':   dict(color='#1ee01e', lw=1.9, ls=(0, (3.8, 1.9))),
    'TT':   dict(color='#ffc800', lw=1.5, ls=(0, (4.4, 2.6))),
}
ORDER = ['TT', 'RV', 'COLD', 'HOT', 'ALL', 'DM']


def lookback(z, h=0.7, om=0.3):
    zz = np.linspace(0.0, z, 4001)
    f = 1.0 / ((1.0 + zz) * np.sqrt(om * (1.0 + zz) ** 3 + 1.0 - om))
    return 977.8 / (100.0 * h) * np.trapezoid(f, zz)


plt.rcParams['font.family'] = ['DejaVu Sans']
plt.rcParams['mathtext.fontset'] = 'dejavusans'
FS = 11.3

W, H = 1348.0, 1013.0
fig = plt.figure(figsize=(W / 100, H / 100), dpi=100)
x0, y0, pw, ph = 65.7, 41.0, 319.2, 308.5

for r in range(3):
    for c in range(4):
        ax = fig.add_axes([(x0 + c * pw) / W, 1 - (y0 + (r + 1) * ph) / H, pw / W, ph / H])
        for key in ORDER:
            if key in PANELS[r][c]:
                arr = np.array(PANELS[r][c][key])
                st = STYLE[key]
                ax.plot(arr[:, 0], arr[:, 1], color=st['color'], lw=st['lw'], ls=st['ls'])
        ax.set_xlim(*XLIM)
        ax.set_ylim(*YLIMS[r])
        ax.xaxis.set_major_locator(MultipleLocator(2))
        ax.xaxis.set_minor_locator(MultipleLocator(0.5))
        ax.yaxis.set_major_locator(MultipleLocator(0.5))
        ax.yaxis.set_minor_locator(MultipleLocator(0.1))
        ax.xaxis.set_major_formatter(FormatStrFormatter('%d'))
        ax.yaxis.set_major_formatter(FormatStrFormatter('%.1f'))
        ax.tick_params(which='both', direction='in', top=True, right=True, width=1.1, labelsize=FS)
        ax.tick_params(which='major', length=7)
        ax.tick_params(which='minor', length=3.5)
        ax.tick_params(axis='x', pad=7)
        ax.tick_params(axis='y', pad=2)
        for s in ax.spines.values():
            s.set_linewidth(1.5)
        if c != 0:
            ax.tick_params(labelleft=False)
        else:
            ax.set_ylabel(ROW_LABELS[r], fontsize=FS, labelpad=4)
        if r != 2:
            ax.tick_params(labelbottom=False)
        else:
            ax.set_xlabel('Lookback Time [Gyr]', fontsize=FS, labelpad=4)
        if r == 0:
            sec = ax.secondary_xaxis('top')
            sec.set_xticks([lookback(z) for z in REDSHIFT_VALUES])
            sec.set_xticklabels(REDSHIFT_LABELS)
            sec.tick_params(length=0, pad=3, labelsize=FS)
            sec.set_xlabel('Redshift', fontsize=FS, labelpad=1)
            sec.spines['top'].set_linewidth(1.5)
            ax.text(0.83, 0.10, HALO_NAMES[c], transform=ax.transAxes,
                    ha='center', va='center', fontsize=FS)
        # legends
        if r == 0 and c == 2:
            for yy, key, lab in [(0.90, 'TT', 'Tidal Torque Model'),
                                 (0.841, 'RV', r'j $\propto$ R$_{\rm vir}$V$_{\rm vir}$')]:
                st = STYLE[key]
                ax.add_line(Line2D([0.092, 0.302], [yy, yy], transform=ax.transAxes,
                                   color=st['color'], lw=st['lw'], ls=st['ls']))
                ax.text(0.339, yy, lab, transform=ax.transAxes, ha='left', va='center', fontsize=FS)
        if r == 0 and c == 3:
            for yy, key, lab in [(0.90, 'DM', 'Dark Matter'), (0.841, 'COLD', 'Cold\u2212mode Gas'),
                                 (0.782, 'HOT', 'Hot\u2212mode Gas'), (0.724, 'ALL', 'All Gas')]:
                st = STYLE[key]
                ax.add_line(Line2D([0.094, 0.389], [yy, yy], transform=ax.transAxes,
                                   color=st['color'], lw=st['lw'], ls=st['ls']))
                ax.text(0.423, yy, lab, transform=ax.transAxes, ha='left', va='center', fontsize=FS)
            ax.text(0.09, 0.655, r'R<R$_{\rm vir}$', transform=ax.transAxes,
                    ha='left', va='center', fontsize=FS)
        if c == 3 and r in (1, 2):
            lab = 'All Gas' if r == 1 else 'All Gas + Stars'
            st = STYLE['ALL']
            ax.add_line(Line2D([0.094, 0.389], [0.899, 0.899], transform=ax.transAxes,
                               color=st['color'], lw=st['lw'], ls=st['ls']))
            ax.text(0.423, 0.899, lab, transform=ax.transAxes, ha='left', va='center', fontsize=FS)

fig.savefig('out.png', dpi=100)
